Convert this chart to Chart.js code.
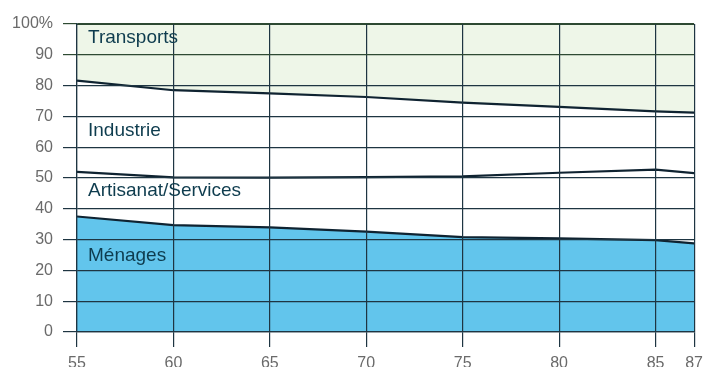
<!DOCTYPE html>
<html>
<head>
<meta charset="utf-8">
<script src="https://cdn.jsdelivr.net/npm/chart.js@4/dist/chart.umd.min.js"></script>
<style>
  html, body { margin: 0; padding: 0; background: #fff; }
  #wrap { width: 710px; height: 367px; }
</style>
</head>
<body>
<div id="wrap"><canvas id="energie"></canvas></div>
<script>
// années (19..)
var annees = [55, 60, 65, 70, 75, 80, 85, 87];
var yTicks = [0, 10, 20, 30, 40, 50, 60, 70, 80, 90, 100];

// parts de la consommation, en %
var menages    = [37.5, 34.7, 34.0, 32.6, 30.8, 30.4, 29.8, 28.8];
var artisanat  = [14.5, 15.5, 16.1, 17.7, 19.7, 21.3, 22.9, 22.8];
var industrie  = [29.6, 28.3, 27.4, 26.0, 24.0, 21.4, 18.9, 19.6];
var transports = [18.4, 21.5, 22.5, 23.7, 25.5, 26.9, 28.4, 28.8];

var trait = '#0f2331';
var grille = '#1e3542';
var grilleVerte = '#2e4a33';

function serie(label, vals, fond, bord) {
    return {
        label: label,
        data: vals.map(function (v, i) { return {x: annees[i], y: v}; }),
        backgroundColor: fond,
        borderColor: bord,
        borderWidth: 2.2,
        pointRadius: 0,
        tension: 0,
        fill: label === 'Ménages' ? 'origin' : '-1'
    };
}

var lineData = {
    datasets: [
        serie('Ménages', menages, '#62c5ec', trait),
        serie('Artisanat/Services', artisanat, '#ffffff', trait),
        serie('Industrie', industrie, '#ffffff', trait),
        serie('Transports', transports, '#eef6e8', grilleVerte)
    ]
};

// noms des secteurs dans les zones
var etiquettes = [
    {txt: 'Transports', y: 95.6},
    {txt: 'Industrie', y: 65.2},
    {txt: 'Artisanat/Services', y: 45.8},
    {txt: 'Ménages', y: 24.8}
];

var nomsZones = {
    id: 'nomsZones',
    afterDraw: function (chart) {
        var c = chart.ctx, sx = chart.scales.x, sy = chart.scales.y;
        c.save();
        c.font = '19px "Liberation Sans", Arial, sans-serif';
        c.fillStyle = '#0e3c4e';
        c.textBaseline = 'middle';
        etiquettes.forEach(function (e) {
            c.fillText(e.txt, sx.getPixelForValue(55) + 11, sy.getPixelForValue(e.y));
        });
        c.restore();
    }
};

var police = {family: '"Liberation Sans", Arial, sans-serif', size: 16};

new Chart(document.getElementById('energie').getContext('2d'), {
    type: 'line',
    data: lineData,
    plugins: [nomsZones],
    options: {
        responsive: true,
        maintainAspectRatio: false,
        animation: false,
        layout: {padding: {top: 24, right: 4, left: 0, bottom: 0}},
        plugins: {legend: {display: false}, tooltip: {enabled: false}},
        scales: {
            x: {
                type: 'linear',
                min: 55, max: 87,
                afterBuildTicks: function (s) {
                    s.ticks = annees.map(function (v) { return {value: v}; });
                },
                afterFit: function (s) { s.height = 35; },
                grid: {color: grille, lineWidth: 1.2, tickLength: 15, z: 1},
                border: {color: grille, width: 1.2, z: 1},
                ticks: {color: '#6a6a6a', font: police, padding: 7, maxRotation: 0,
                    callback: function (v) { return v; }}
            },
            y: {
                stacked: true,
                min: 0, max: 100,
                afterBuildTicks: function (s) {
                    s.ticks = yTicks.map(function (v) { return {value: v}; });
                },
                afterFit: function (s) { s.width = 77; },
                grid: {
                    lineWidth: 1.2, tickLength: 14, z: 1,
                    color: function (ctx) {
                        return ctx.tick && ctx.tick.value >= 90 ? grilleVerte : grille;
                    }
                },
                border: {color: grille, width: 1.2, z: 1},
                ticks: {color: '#6a6a6a', font: police, padding: 10,
                    callback: function (v) { return v === 100 ? '100%' : v; }}
            }
        }
    }
});
</script>
</body>
</html>
